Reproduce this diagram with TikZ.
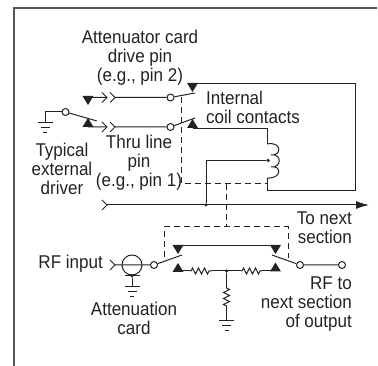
\documentclass[tikz,border=0pt]{standalone}
\usepackage{fontspec}
\setmainfont[FakeStretch=0.92]{Liberation Sans}
\usetikzlibrary{arrows.meta,decorations.pathmorphing}
\tikzset{>={Latex[length=13pt,width=8pt]}}
\tikzset{term node/.style={circle,draw=wire,fill=white,line width=1pt,minimum size=7pt,inner sep=0pt},
         label node/.style={inner sep=0pt,align=center,text=wire,font=\fontsize{18.5}{19}\selectfont},
         wire line/.style={draw=wire,line width=1pt},
         link line/.style={draw=wire,line width=1pt,dash pattern=on 6pt off 4pt},
         res line/.style={wire line,decorate,decoration={zigzag,segment length=6pt,amplitude=3pt,pre length=1pt,post length=1pt}},
         dot node/.style={circle,fill=wire,minimum size=3.5pt,inner sep=0pt},
         contact down/.pic={\fill[wire] (0,0) -- (-5.5,-9) -- (5.5,-9) -- cycle;},
         contact up/.pic={\fill[wire] (0,0) -- (-5.5,9) -- (5.5,9) -- cycle;},
         jack/.pic={\draw[wire line] (-5,-5) -- (0,0) -- (-5,5);},
         earth/.pic={\draw[wire line] (-7.5,0) -- (7.5,0) (-4.5,5) -- (4.5,5) (-2,10) -- (2,10);},
}
\definecolor{wire}{HTML}{222222}
\definecolor{framegray}{HTML}{555555}
\begin{document}
\begin{tikzpicture}[x=1pt,y=-1pt]

    \useasboundingbox (0,0) rectangle (378,366);
    \draw[framegray,line width=1.3pt] (14,366) -- (14,8) -- (377,8);

    % pins and terminals
    \node[term node] (t1) at (170.5,97.5) {};
    \node[term node] (t2) at (170.5,127) {};
    \node[term node] (t3) at (65.5,112) {};
    \node[term node] (t4) at (154,265) {};
    \node[term node] (t5) at (300,265) {};
    \node[term node] (t6) at (342,265) {};
    \node[circle,draw=wire,line width=1pt,minimum size=20pt,inner sep=0pt] (src) at (132,265) {};

    \coordinate (p1) at (88,97.5);
    \coordinate (p2) at (88,127);
    \coordinate (j1) at (107,97.5);
    \coordinate (j2) at (115,97.5);
    \coordinate (j3) at (107,127);
    \coordinate (j4) at (115,127);
    \coordinate (j5) at (107,205);
    \coordinate (j6) at (115,265);
    \coordinate (e) at (369,205);

    \pic at (j1) {jack};
    \pic at (j2) {jack};
    \pic at (j3) {jack};
    \pic at (j4) {jack};
    \pic at (j5) {jack};
    \pic at (j6) {jack};

    \pic at (88,105) {contact down};
    \pic at (88,118) {contact up};
    \pic at (192.5,92) {contact down};
    \pic at (192.5,119) {contact up};
    \pic at (178,254) {contact down};
    \pic at (178,263) {contact up};
    \pic at (275.5,254) {contact down};
    \pic at (275.5,262.5) {contact up};

    % contacts
    \coordinate (c1) at (195,93);
    \coordinate (c2) at (195,118);
    \coordinate (c3) at (97,121);
    \coordinate (c4) at (182,255);
    \coordinate (c5) at (272,255);

    \path[wire line]
    (p1) -- (j1)
    (p2) -- (j3)
    (j2) -- (t1)
    (j4) -- (t2)
    (t1) -- (c1)
    (t2) -- (c2)
    (t3) -- (c3)
    (t4) -- (c4)
    (t5) -- (c5)
    (t5) -- (t6)
    (j6) -- (src.west)
    (src.west) -- (t4);

    % drive loop
    \coordinate (k1) at (192.5,84);
    \coordinate (k2) at (355,84);
    \coordinate (k3) at (355,191);
    \coordinate (k4) at (267,191);
    \coordinate (k5) at (267,178);
    \coordinate (k6) at (192.5,129);
    \coordinate (k7) at (267,129);
    \coordinate (k8) at (267,144);
    \draw[wire line] (k1) -- (k2) -- (k3) -- (k4) -- (k5);
    \draw[wire line] (k6) -- (k7) -- (k8);
    \draw[wire line] (k8) .. controls (282,141) and (282,156) .. (271,155)
        .. controls (282,153) and (282,168) .. (271,167)
        .. controls (282,165) and (282,179) .. (k5);

    \node[dot node] (tap) at (268,160.5) {};
    \node[dot node] (bus) at (206,205) {};
    \coordinate (k9) at (206,160.5);
    \draw[wire line] (tap) -- (k9) -- (bus);
    \draw[wire line,->] (j5) -- (e);

    % external driver
    \coordinate (g1) at (45,112);
    \coordinate (g2) at (45,123);
    \draw[wire line] (t3) -- (g1) -- (g2);
    \pic at (g2) {earth};

    % attenuation card
    \coordinate (g3) at (132,287);
    \node[dot node] (s1) at (132,276) {};
    \coordinate (s2) at (124.5,276);
    \coordinate (s3) at (139.5,276);
    \draw[wire line] (s2) -- (s3) (s1) -- (g3);
    \pic at (g3) {earth};

    % attenuator
    \coordinate (a1) at (178,246);
    \coordinate (a2) at (275.5,246);
    \coordinate (b1) at (178,271);
    \coordinate (b2) at (190,271);
    \coordinate (b3) at (212,271);
    \node[dot node] (b4) at (226.5,271) {};
    \coordinate (b5) at (241,271);
    \coordinate (b6) at (262,271);
    \coordinate (b7) at (275.5,271);
    \coordinate (b8) at (226.5,287);
    \coordinate (b9) at (226.5,308);
    \coordinate (g4) at (226.5,321);
    \draw[wire line] (a1) -- (a2);
    \draw[wire line] (b1) -- (b2) (b3) -- (b5) (b6) -- (b7) (b4) -- (b8) (b9) -- (g4);
    \draw[res line] (b2) -- (b3);
    \draw[res line] (b5) -- (b6);
    \draw[res line] (b8) -- (b9);
    \pic at (g4) {earth};

    % mechanical link
    \coordinate (d1) at (181.5,97);
    \coordinate (d2) at (181.5,184);
    \coordinate (d3) at (267,184);
    \coordinate (d4) at (226.5,184);
    \coordinate (d5) at (226.5,227);
    \coordinate (d6) at (164,227);
    \coordinate (d7) at (164,257);
    \coordinate (d8) at (288,227);
    \coordinate (d9) at (288,258);
    \draw[link line] (d1) -- (d2) -- (d3);
    \draw[link line] (d4) -- (d5);
    \draw[link line] (d7) -- (d6) -- (d8) -- (d9);

    % labels
    \node[label node] (l1) at (140,58) {Attenuator card\\drive pin\\(e.g., pin 2)};
    \node[label node,align=left,anchor=west] (l2) at (206,107.5) {Internal\\coil contacts};
    \node[label node] (l3) at (139,162.5) {Thru line\\pin\\(e.g., pin 1)};
    \node[label node] (l4) at (62,169) {Typical\\external\\driver};
    \node[label node,align=right,anchor=east] (l5) at (352,228) {To next\\section};
    \node[label node,anchor=east] (l6) at (103,264) {RF input};
    \node[label node] (l7) at (134,318) {Attenuation\\card};
    \node[label node,align=right,anchor=east] (l8) at (352,304) {RF to\\next section\\of output};

\end{tikzpicture}
\end{document}
